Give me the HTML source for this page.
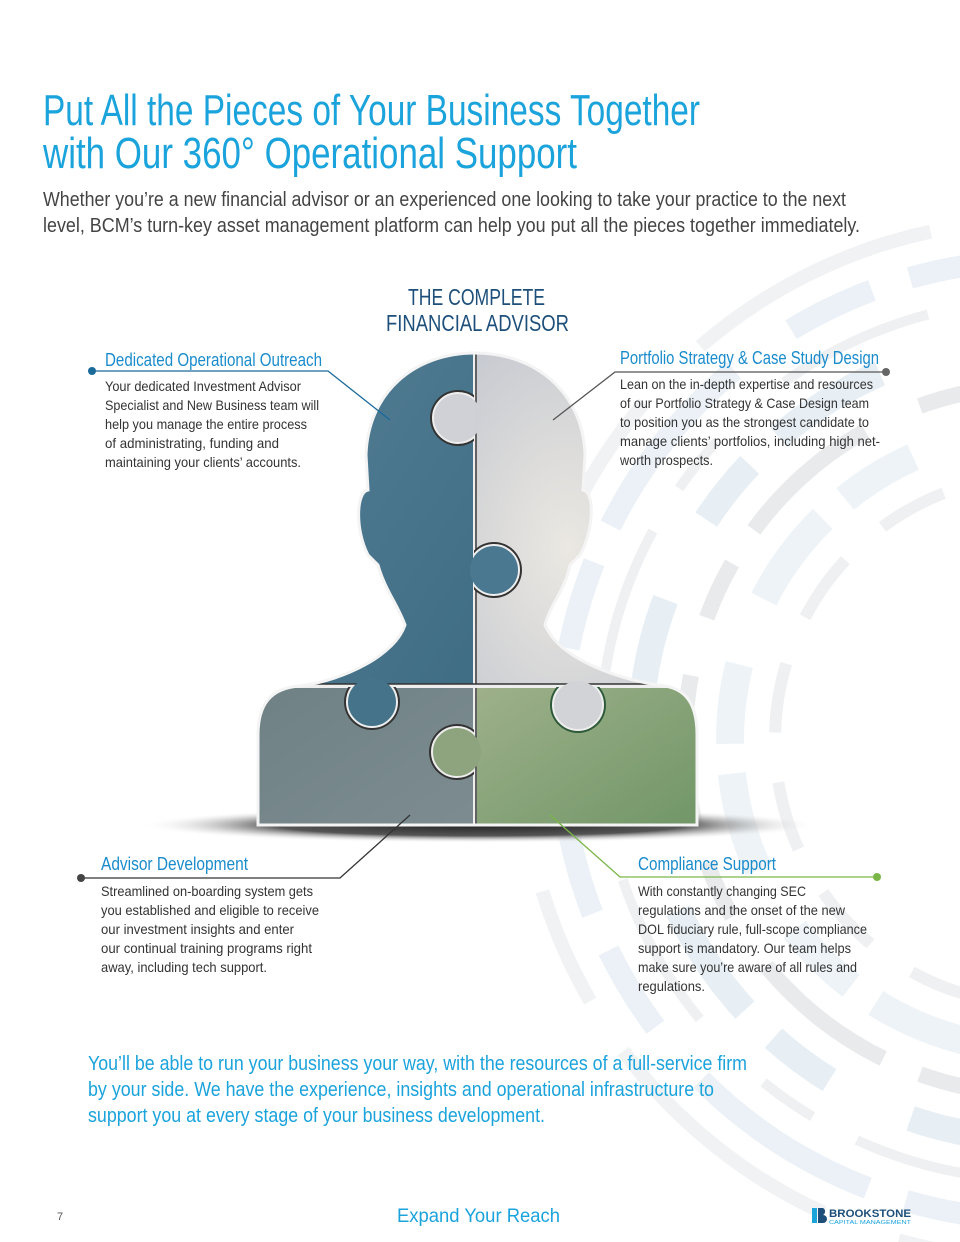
<!DOCTYPE html>
<html><head><meta charset="utf-8"><style>
html,body{margin:0;padding:0;background:#fff;overflow:hidden;width:960px;height:1242px}
svg{display:block}
text{font-family:"Liberation Sans Narrow","Liberation Sans",sans-serif}
</style></head><body>
<svg width="960" height="1242" viewBox="0 0 960 1242" xmlns="http://www.w3.org/2000/svg">
<defs>
<linearGradient id="tl" x1="0" y1="0" x2="1" y2="1"><stop offset="0" stop-color="#557f96"/><stop offset="1" stop-color="#3f6d84"/></linearGradient>
<radialGradient id="tr" cx="0.4" cy="0.6" r="0.7"><stop offset="0" stop-color="#ebe8e2"/><stop offset="1" stop-color="#c6c9d0"/></radialGradient>
<linearGradient id="bl" x1="0" y1="0" x2="1" y2="1"><stop offset="0" stop-color="#6f8185"/><stop offset="1" stop-color="#7d8c90"/></linearGradient>
<linearGradient id="br" x1="0" y1="0" x2="1" y2="1"><stop offset="0" stop-color="#9eb08a"/><stop offset="1" stop-color="#6f9566"/></linearGradient>
<radialGradient id="sh" cx="0.5" cy="0.5" r="0.5"><stop offset="0" stop-color="#222"/><stop offset="0.6" stop-color="#555"/><stop offset="1" stop-color="#fff" stop-opacity="0"/></radialGradient>
<clipPath id="sil"><path id="silp" d="M475,353 C535,353 583,392 585,455 L583,490 C595,492 594,530 580,555 L570,565 C565,590 550,605 545,625 C560,660 620,680 665,686 C690,690 697,710 697,735 L697,825 L258,825 L258,735 C258,705 270,688 300,686 C345,680 395,655 405,625 C398,605 385,590 378,565 L368,555 C355,530 356,492 368,490 L366,455 C368,392 415,353 475,353Z"/></clipPath>
<clipPath id="cL"><rect x="0" y="0" width="474" height="1242"/></clipPath>
<clipPath id="cR"><rect x="474" y="0" width="486" height="1242"/></clipPath>
<clipPath id="cT"><rect x="0" y="0" width="960" height="687"/></clipPath>
<clipPath id="cB"><rect x="0" y="687" width="960" height="555"/></clipPath>
</defs>

<!-- background arcs -->
<g fill="none" opacity="0.55">
<circle cx="1040" cy="740" r="520" stroke="#e6e9ec" stroke-width="14" stroke-dasharray="260 60 120 80"/>
<circle cx="1040" cy="740" r="480" stroke="#dbe7f0" stroke-width="22" stroke-dasharray="90 40 200 70"/>
<circle cx="1040" cy="740" r="440" stroke="#e2e5e8" stroke-width="10" stroke-dasharray="160 50 60 90"/>
<circle cx="1040" cy="740" r="400" stroke="#d5e3ee" stroke-width="26" stroke-dasharray="120 90 70 40"/>
<circle cx="1040" cy="740" r="355" stroke="#d8dadd" stroke-width="16" stroke-dasharray="60 40 150 60"/>
<circle cx="1040" cy="740" r="310" stroke="#dfeaf2" stroke-width="28" stroke-dasharray="100 30 80 70"/>
<circle cx="1040" cy="740" r="265" stroke="#e3e5e8" stroke-width="12" stroke-dasharray="70 50"/>
</g>

<!-- title -->
<text x="43" y="125" font-size="44" fill="#1ba3dc" textLength="657" lengthAdjust="spacingAndGlyphs">Put All the Pieces of Your Business Together</text>
<text x="43" y="168" font-size="44" fill="#1ba3dc" textLength="534" lengthAdjust="spacingAndGlyphs">with Our 360° Operational Support</text>
<text x="43" y="206" font-size="20" fill="#444" textLength="803" lengthAdjust="spacingAndGlyphs">Whether you’re a new financial advisor or an experienced one looking to take your practice to the next</text>
<text x="43" y="232" font-size="20" fill="#444" textLength="817" lengthAdjust="spacingAndGlyphs">level, BCM’s turn-key asset management platform can help you put all the pieces together immediately.</text>

<text x="408" y="305" font-size="23" fill="#1d4f7a" textLength="137" lengthAdjust="spacingAndGlyphs">THE COMPLETE</text>
<text x="386" y="331" font-size="23" fill="#1d4f7a" textLength="183" lengthAdjust="spacingAndGlyphs">FINANCIAL ADVISOR</text>

<!-- shadow -->
<ellipse cx="480" cy="825" rx="340" ry="18" fill="url(#sh)"/>

<!-- figure -->
<g clip-path="url(#sil)">
<rect x="250" y="340" width="225" height="346" fill="url(#tl)"/>
<rect x="475" y="340" width="230" height="346" fill="url(#tr)"/>
<rect x="250" y="686" width="225" height="150" fill="url(#bl)"/>
<rect x="475" y="686" width="230" height="150" fill="url(#br)"/>
<line x1="475" y1="340" x2="475" y2="830" stroke="#eee" stroke-width="4"/>
<line x1="476" y1="340" x2="476" y2="830" stroke="#333" stroke-width="1.5"/>
<line x1="250" y1="686" x2="705" y2="686" stroke="#eee" stroke-width="4"/>
<line x1="250" y1="684" x2="705" y2="684" stroke="#333" stroke-width="1.5"/>
<!-- knobs -->
<g clip-path="url(#cL)"><circle cx="458" cy="418" r="28" fill="#333"/><circle cx="458" cy="418" r="25" fill="#d0d1d6" stroke="#eee" stroke-width="2"/></g>
<g clip-path="url(#cR)"><circle cx="458" cy="418" r="24" fill="#cfd0d5"/></g>
<g clip-path="url(#cR)"><circle cx="494" cy="570" r="28" fill="#333"/><circle cx="494" cy="570" r="25" fill="#4a7890" stroke="#eee" stroke-width="2"/></g>
<g clip-path="url(#cL)"><circle cx="494" cy="570" r="24" fill="#4a7890"/></g>
<g clip-path="url(#cB)"><circle cx="372" cy="702" r="28" fill="#333"/><circle cx="372" cy="702" r="25" fill="#457389" stroke="#eee" stroke-width="2"/></g>
<g clip-path="url(#cT)"><circle cx="372" cy="702" r="24" fill="#457389"/></g>
<g clip-path="url(#cB)"><circle cx="578" cy="705" r="28" fill="#2e5a3a"/><circle cx="578" cy="705" r="25" fill="#d2d3d7" stroke="#eee" stroke-width="2"/></g>
<g clip-path="url(#cT)"><circle cx="578" cy="705" r="24" fill="#d2d3d7"/></g>
<g clip-path="url(#cL)"><circle cx="457" cy="752" r="28" fill="#333"/><circle cx="457" cy="752" r="25" fill="#8ea47e" stroke="#eee" stroke-width="2"/></g>
<g clip-path="url(#cR)"><circle cx="457" cy="752" r="24" fill="#8ea47e"/></g>
</g>
<use href="#silp" fill="none" stroke="#f4f4f4" stroke-width="3"/>

<!-- connectors -->
<g fill="none" stroke-width="1.3">
<polyline points="92,371 328,371 390,420" stroke="#1a6a9a"/>
<polyline points="886,372 615,372 553,420" stroke="#555"/>
<polyline points="81,878 340,878 410,815" stroke="#333"/>
<polyline points="877,877 620,877 550,815" stroke="#7ab648"/>
</g>
<circle cx="92" cy="371" r="4" fill="#1a6a9a"/>
<circle cx="886" cy="372" r="4" fill="#666"/>
<circle cx="81" cy="878" r="4" fill="#444"/>
<circle cx="877" cy="877" r="4" fill="#7ab648"/>

<!-- labels -->
<g font-size="18" fill="#1a8ccc">
<text x="105" y="366" textLength="217" lengthAdjust="spacingAndGlyphs">Dedicated Operational Outreach</text>
<text x="620" y="364" textLength="259" lengthAdjust="spacingAndGlyphs">Portfolio Strategy &amp; Case Study Design</text>
<text x="101" y="870" textLength="147" lengthAdjust="spacingAndGlyphs">Advisor Development</text>
<text x="638" y="870" textLength="138" lengthAdjust="spacingAndGlyphs">Compliance Support</text>
</g>
<g font-size="14" fill="#333">
<text x="105" y="391" textLength="196" lengthAdjust="spacingAndGlyphs">Your dedicated Investment Advisor</text>
<text x="105" y="410" textLength="214" lengthAdjust="spacingAndGlyphs">Specialist and New Business team will</text>
<text x="105" y="429" textLength="202" lengthAdjust="spacingAndGlyphs">help you manage the entire process</text>
<text x="105" y="448" textLength="174" lengthAdjust="spacingAndGlyphs">of administrating, funding and</text>
<text x="105" y="467" textLength="196" lengthAdjust="spacingAndGlyphs">maintaining your clients’ accounts.</text>

<text x="620" y="389" textLength="253" lengthAdjust="spacingAndGlyphs">Lean on the in-depth expertise and resources</text>
<text x="620" y="408" textLength="249" lengthAdjust="spacingAndGlyphs">of our Portfolio Strategy &amp; Case Design team</text>
<text x="620" y="427" textLength="249" lengthAdjust="spacingAndGlyphs">to position you as the strongest candidate to</text>
<text x="620" y="446" textLength="260" lengthAdjust="spacingAndGlyphs">manage clients’ portfolios, including high net-</text>
<text x="620" y="465" textLength="93" lengthAdjust="spacingAndGlyphs">worth prospects.</text>

<text x="101" y="896" textLength="212" lengthAdjust="spacingAndGlyphs">Streamlined on-boarding system gets</text>
<text x="101" y="915" textLength="218" lengthAdjust="spacingAndGlyphs">you established and eligible to receive</text>
<text x="101" y="934" textLength="193" lengthAdjust="spacingAndGlyphs">our investment insights and enter</text>
<text x="101" y="953" textLength="211" lengthAdjust="spacingAndGlyphs">our continual training programs right</text>
<text x="101" y="972" textLength="166" lengthAdjust="spacingAndGlyphs">away, including tech support.</text>

<text x="638" y="896" textLength="168" lengthAdjust="spacingAndGlyphs">With constantly changing SEC</text>
<text x="638" y="915" textLength="207" lengthAdjust="spacingAndGlyphs">regulations and the onset of the new</text>
<text x="638" y="934" textLength="229" lengthAdjust="spacingAndGlyphs">DOL fiduciary rule, full-scope compliance</text>
<text x="638" y="953" textLength="213" lengthAdjust="spacingAndGlyphs">support is mandatory. Our team helps</text>
<text x="638" y="972" textLength="219" lengthAdjust="spacingAndGlyphs">make sure you’re aware of all rules and</text>
<text x="638" y="991" textLength="67" lengthAdjust="spacingAndGlyphs">regulations.</text>
</g>

<!-- bottom paragraph -->
<g font-size="20" fill="#1ba3dc">
<text x="88" y="1070" textLength="659" lengthAdjust="spacingAndGlyphs">You’ll be able to run your business your way, with the resources of a full-service firm</text>
<text x="88" y="1096" textLength="626" lengthAdjust="spacingAndGlyphs">by your side. We have the experience, insights and operational infrastructure to</text>
<text x="88" y="1122" textLength="457" lengthAdjust="spacingAndGlyphs">support you at every stage of your business development.</text>
</g>

<!-- footer -->
<text x="57" y="1220" font-size="11" fill="#555" style="font-family:'Liberation Sans',sans-serif">7</text>
<text x="397" y="1222" font-size="19" fill="#1ba3dc" textLength="163" lengthAdjust="spacingAndGlyphs" style="font-family:'Liberation Sans',sans-serif">Expand Your Reach</text>
<rect x="812" y="1208" width="5" height="15" fill="#1ba3dc"/>
<path d="M818,1208 h5 a4,4 0 0 1 0,7 a4,4 0 0 1 0,8 h-5z" fill="#1d4f7a"/>
<text x="829" y="1217" font-size="11" font-weight="bold" fill="#1d4f7a" textLength="82" lengthAdjust="spacingAndGlyphs" style="font-family:'Liberation Sans',sans-serif">BROOKSTONE</text>
<text x="829" y="1224" font-size="5" fill="#1ba3dc" textLength="82" lengthAdjust="spacingAndGlyphs" style="font-family:'Liberation Sans',sans-serif">CAPITAL MANAGEMENT</text>
</svg>
</body></html>
